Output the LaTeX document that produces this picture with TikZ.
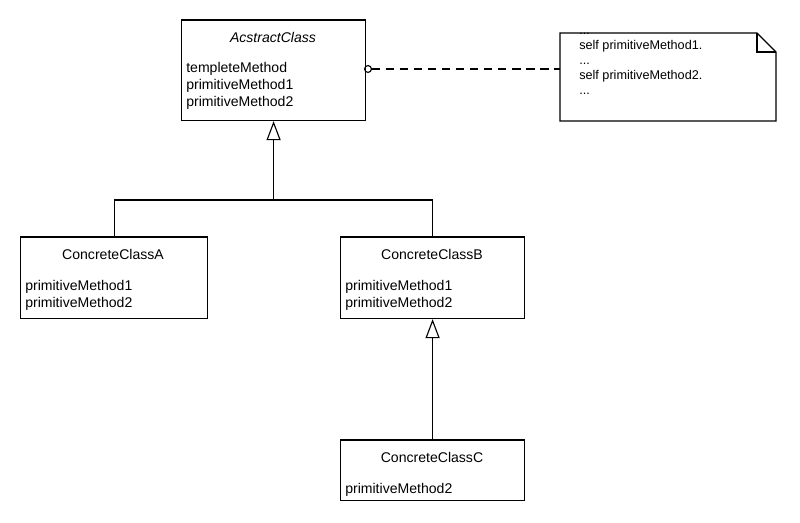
\documentclass[tikz,border=0pt]{standalone}
\usepackage{fontspec}
\setmainfont{Liberation Sans}
\usetikzlibrary{arrows.meta,calc,positioning}

\tikzset{
  cls/.style={draw, line width=0.8pt, anchor=north west, inner sep=0pt},
  meth/.style={anchor=north west, align=left, inner sep=0pt, font=\fontsize{10}{12.2}\selectfont},
  head/.style={font=\fontsize{10}{12}\selectfont},
  gen/.style={line width=0.8pt, -{Triangle[open, width=10pt, length=13.5pt]}},
}

\begin{document}
\begin{tikzpicture}[x=0.025cm, y=-0.025cm]
    \useasboundingbox (0,0) rectangle (800,523);

    % abstract class
    \node[cls, minimum width=4.6cm, minimum height=2.5cm] (abs) at (181,20) {};
    \draw[line width=0.8pt] ($(abs.north west)+(0,-0.8)$) -- ($(abs.north east)+(0,-0.8)$);
    \node[head, font=\fontsize{10}{12}\selectfont\itshape] (absname) at (273,37) {AcstractClass};
    \node[meth] (absops) at (186,62) {templeteMethod\\primitiveMethod1\\primitiveMethod2};

    % note
    \draw[line width=0.8pt] (560,33) -- (757,33) -- (776,52) -- (776,121) -- (560,121) -- cycle;
    \draw[line width=0.8pt] (757,33) -- (757,52) -- (776,52);
    \coordinate (notein) at (560,69);
    \node[meth, font=\fontsize{9}{10.6}\selectfont] (notetext) at (579,33)
      {...\\self primitiveMethod1.\\...\\self primitiveMethod2.\\...};
    \coordinate (absport) at (364,69);
    \draw[line width=0.8pt, dash pattern=on 6pt off 4pt, {Circle[open, length=5.7pt, width=5.7pt]}-] (absport) -- (notein);

    % concrete classes
    \node[cls, minimum width=4.675cm, minimum height=2.025cm] (ca) at (20,237) {};
    \draw[line width=0.8pt] ($(ca.north west)+(0,-0.825)$) -- ($(ca.north east)+(0,-0.825)$);
    \node[head] (caname) at (113,254) {ConcreteClassA};
    \node[meth] (caops) at (25,280) {primitiveMethod1\\primitiveMethod2};

    \node[cls, minimum width=4.6cm, minimum height=2.025cm] (cb) at (340,237) {};
    \draw[line width=0.8pt] ($(cb.north west)+(0,-0.825)$) -- ($(cb.north east)+(0,-0.825)$);
    \node[head] (cbname) at (432,254) {ConcreteClassB};
    \node[meth] (cbops) at (345,280) {primitiveMethod1\\primitiveMethod2};

    \node[cls, minimum width=4.6cm, minimum height=1.5cm] (cc) at (340,440) {};
    \draw[line width=0.8pt] ($(cc.north west)+(0,-0.825)$) -- ($(cc.north east)+(0,-0.825)$);
    \node[head] (ccname) at (432,457) {ConcreteClassC};
    \node[meth] (ccops) at (345,483) {primitiveMethod2};

    % generalizations
    \coordinate (fork) at (abs.south |- 0,200);
    \draw[line width=0.8pt] (ca.north) |- (fork) -| (cb.north);
    \draw[gen] (fork) -- (abs.south);
    \draw[gen] (cc.north) -- (cb.south);
\end{tikzpicture}
\end{document}
